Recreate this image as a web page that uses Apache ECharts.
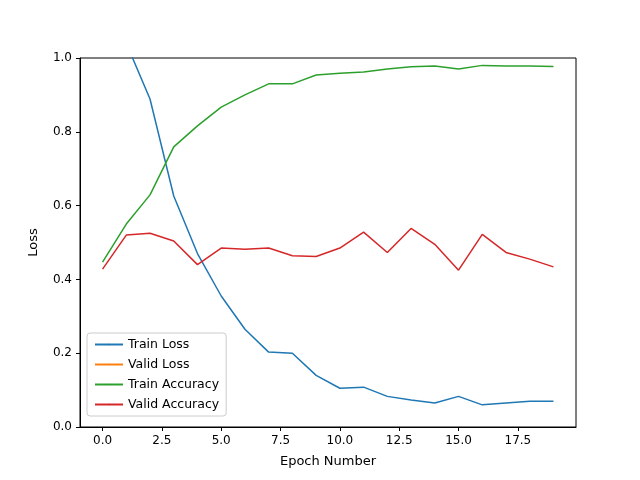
<!DOCTYPE html>
<html>
<head>
<meta charset="utf-8">
<script src="https://cdn.jsdelivr.net/npm/echarts@6/dist/echarts.min.js"></script>
<style>body{margin:0}#c{width:640px;height:480px}</style>
</head>
<body>
<div id="c"></div>
<script>
var epochs = [0,1,2,3,4,5,6,7,8,9,10,11,12,13,14,15,16,17,18,19]
var trainLoss = [1.6,1.04,0.889,0.626,0.47,0.355,0.265,0.203,0.2,0.14,0.105,0.108,0.083,0.073,0.065,0.083,0.06,0.065,0.07,0.07]
var validLoss = [2.2,2.0,1.9,1.8,1.85,1.8,1.9,2.0,2.1,2.2,2.3,2.4,2.6,2.5,2.7,2.9,2.6,2.8,3.0,3.1]
var trainAcc = [0.447,0.55,0.629,0.759,0.816,0.867,0.9,0.93,0.93,0.954,0.959,0.962,0.97,0.976,0.978,0.97,0.98,0.978,0.978,0.977]
var validAcc = [0.428,0.52,0.525,0.504,0.44,0.485,0.482,0.485,0.464,0.462,0.485,0.528,0.473,0.538,0.495,0.425,0.522,0.473,0.455,0.434]
var xTicks = [0,2.5,5,7.5,10,12.5,15,17.5]

function pairs(arr) {
  return arr.map(function (v, i) { return [epochs[i], v] })
}

var chart = echarts.init(document.getElementById('c'))
var font = 'DejaVu Sans'
var names = ['Train Loss', 'Valid Loss', 'Train Accuracy', 'Valid Accuracy']
var colors = ['#1f77b4', '#ff7f0e', '#2ca02c', '#d62728']
var datas = [trainLoss, validLoss, trainAcc, validAcc]

chart.setOption({
  animation: false,
  textStyle: { fontFamily: font },
  grid: { left: 80, right: 64, top: 58, bottom: 53, show: true, borderColor: '#000', borderWidth: 1 },
  legend: {
    orient: 'vertical', left: 87, top: 333,
    data: names,
    itemWidth: 28, itemHeight: 2, itemGap: 7,
    padding: [5, 7],
    borderColor: '#ccc', borderWidth: 1, borderRadius: 3,
    backgroundColor: '#fff',
    textStyle: { fontSize: 12.5, color: '#000', fontFamily: font }
  },
  xAxis: {
    type: 'value', min: -0.95, max: 19.95,
    name: 'Epoch Number', nameLocation: 'middle', nameGap: 28,
    nameTextStyle: { fontSize: 13, color: '#000' },
    splitLine: { show: false },
    axisLine: { onZero: false, lineStyle: { color: '#000' } },
    axisTick: { show: true, length: 4, customValues: xTicks, lineStyle: { color: '#000' } },
    axisLabel: { customValues: xTicks, color: '#000', fontSize: 12, formatter: function (v) { return v.toFixed(1) } }
  },
  yAxis: {
    type: 'value', min: 0, max: 1, interval: 0.2,
    name: 'Loss', nameLocation: 'middle', nameGap: 40,
    nameTextStyle: { fontSize: 13, color: '#000' },
    splitLine: { show: false },
    axisLine: { show: true, onZero: false, lineStyle: { color: '#000' } },
    axisTick: { show: true, length: 4, lineStyle: { color: '#000' } },
    axisLabel: { color: '#000', fontSize: 12, formatter: function (v) { return v.toFixed(1) } }
  },
  series: datas.map(function (d, i) {
    return {
      name: names[i], type: 'line', data: pairs(d), symbol: 'none', clip: true,
      itemStyle: { color: colors[i] },
      lineStyle: { color: colors[i], width: 1.5 }
    }
  })
})
</script>
</body>
</html>
